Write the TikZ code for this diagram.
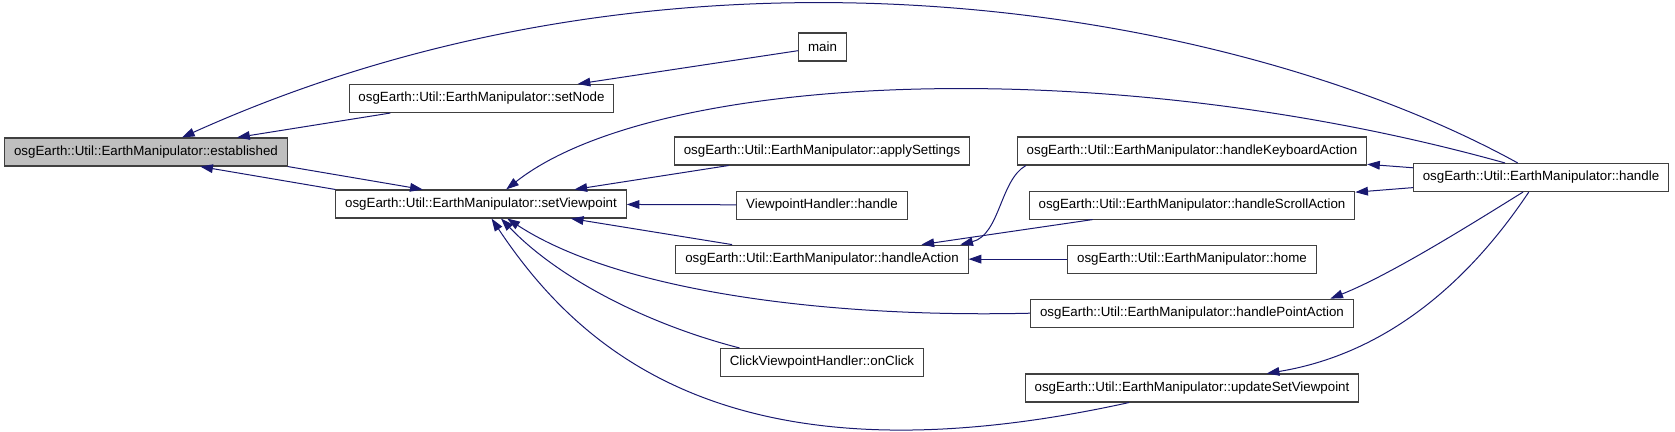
\documentclass[tikz,border=0pt]{standalone}
\usepackage{fontspec}
\setmainfont{Liberation Sans}
\usepackage{tikz}
\usetikzlibrary{arrows.meta, positioning}
\definecolor{edgeblue}{HTML}{191970}
\definecolor{boxline}{HTML}{404040}
\definecolor{focusfill}{HTML}{BFBFBF}
\tikzset{
  func/.style={
    rectangle,
    minimum height=21pt, inner xsep=7pt,
    text centered, draw=boxline, line width=0.8pt,
    fill=white, font=\fontsize{10}{12}\selectfont,
  },
  current/.style={func, fill=focusfill},
  arrow/.style={-{Triangle[length=9.5pt, width=6.5pt]}, line width=0.75pt, color=edgeblue},
}
\begin{document}
\begin{tikzpicture}[x=0.75pt, y=-0.75pt, node distance=18.75pt]
  \useasboundingbox (0,0) rectangle (1675,432);

  \node[current] (established) at (146,152) {osgEarth::Util::EarthManipulator::established};
  \node[func] (setNode) at (481.5,98.5) {osgEarth::Util::EarthManipulator::setNode};
  \node[func] (setViewpoint) at (481,204) {osgEarth::Util::EarthManipulator::setViewpoint};
  \node[func] (mainFn) at (822.5,47) {main};
  \node[func] (applySettings) at (822,151) {osgEarth::Util::EarthManipulator::applySettings};
  \node[func, below=of applySettings] (vpHandle) {ViewpointHandler::handle};
  \node[func, below=of vpHandle] (handleAction) {osgEarth::Util::EarthManipulator::handleAction};
  \node[func] (onClick) at (822,362.5) {ClickViewpointHandler::onClick};
  \node[func] (keyboardAction) at (1192,151) {osgEarth::Util::EarthManipulator::handleKeyboardAction};
  \node[func, below=of keyboardAction] (scrollAction) {osgEarth::Util::EarthManipulator::handleScrollAction};
  \node[func, below=of scrollAction] (home) {osgEarth::Util::EarthManipulator::home};
  \node[func, below=of home] (pointAction) {osgEarth::Util::EarthManipulator::handlePointAction};
  \node[func] (updateViewpoint) at (1192,388) {osgEarth::Util::EarthManipulator::updateSetViewpoint};
  \node[func] (handle) at (1541,177.5) {osgEarth::Util::EarthManipulator::handle};

  \draw[arrow] (handle.148) .. controls (1244,12) and (691,-92) .. (established.22);
  \draw[arrow] (setNode) -- (established);
  \draw[arrow] (setViewpoint.north west) -- (established.-15);
  \draw[arrow] (established.south east) -- (setViewpoint.166);
  \draw[arrow] (mainFn) -- (setNode);
  \draw[arrow] (handle.158) .. controls (1104,51) and (655,72) .. (setViewpoint.30);
  \draw[arrow] (applySettings) -- (setViewpoint);
  \draw[arrow] (vpHandle) -- (setViewpoint);
  \draw[arrow] (handleAction) -- (setViewpoint);
  \draw[arrow] (pointAction.west) .. controls (830,318) and (620,292) .. (setViewpoint.-29);
  \draw[arrow] (onClick.170) .. controls (650,325) and (560,280) .. (setViewpoint.-36);
  \draw[arrow] (updateViewpoint.193) .. controls (741,488) and (585,359) .. (setViewpoint.-54);
  \draw[arrow] (keyboardAction.185) .. controls (1000,180) and (1000,235) .. (handleAction.6);
  \draw[arrow] (scrollAction) -- (handleAction);
  \draw[arrow] (home) -- (handleAction);
  \draw[arrow] (handle) -- (keyboardAction);
  \draw[arrow] (handle) -- (scrollAction);
  \draw[arrow] (handle.219) .. controls (1470,225) and (1390,275) .. (pointAction.6);
  \draw[arrow] (handle.230) .. controls (1490,250) and (1410,350) .. (updateViewpoint.11);

\end{tikzpicture}
\end{document}
